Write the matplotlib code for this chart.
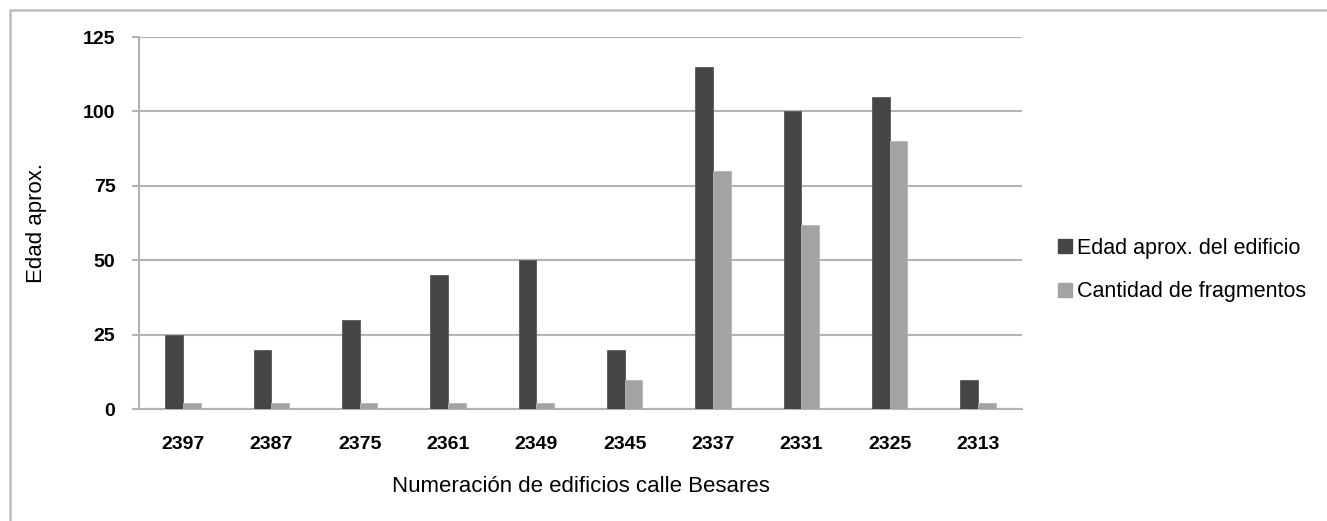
import matplotlib
matplotlib.use("Agg")
import matplotlib.pyplot as plt
import numpy as np
from matplotlib.patches import Rectangle, Patch

categories = ["2397", "2387", "2375", "2361", "2349", "2345", "2337", "2331", "2325", "2313"]
edad = [25, 20, 30, 45, 50, 20, 115, 100, 105, 10]
fragmentos = [2, 2, 2, 2, 2, 10, 80, 62, 90, 2]
series_names = ["Edad aprox. del edificio", "Cantidad de fragmentos"]
yticks = [0, 25, 50, 75, 100, 125]

plt.rcParams['font.family'] = ['Liberation Sans', 'DejaVu Sans']

W, H = 1327, 521
fig = plt.figure(figsize=(W / 100, H / 100), dpi=100)

# outer frame
fig.patches.append(Rectangle((10 / W, -0.1), 1.2, 1 - 10 / H + 0.1, transform=fig.transFigure,
                             fill=False, edgecolor="#bdbdbd", linewidth=1.8, zorder=0))

ax = fig.add_axes([139 / W, 1 - 409.3 / H, (1022 - 139) / W, (409.3 - 37) / H])
x = np.arange(len(categories))
bw = 0.2
dark, light = "#454545", "#a3a3a3"
ax.bar(x - bw / 2, edad, width=bw, color=dark, edgecolor="#5a5a5a", linewidth=0.6, zorder=3)
ax.bar(x + bw / 2, fragmentos, width=bw, color=light, edgecolor="#b5b5b5", linewidth=0.6, zorder=3)

ax.set_xlim(-0.5, len(categories) - 0.5)
ax.set_ylim(0, 125)
ax.set_yticks(yticks)
ax.set_xticks(x)
ax.set_xticklabels(categories)
ax.yaxis.grid(True, color="#b3b3b3", linewidth=1.5, zorder=0)
ax.set_axisbelow(True)
for s in ["top", "right"]:
    ax.spines[s].set_visible(False)
for s in ["left", "bottom"]:
    ax.spines[s].set_color("#b3b3b3")
    ax.spines[s].set_linewidth(1.5)
ax.tick_params(axis="y", length=5, color="#b3b3b3", width=1.5, pad=12)
ax.tick_params(axis="x", length=0, pad=19)
for lab in ax.get_xticklabels() + ax.get_yticklabels():
    lab.set_fontweight("bold")
    lab.set_fontsize(14)

ax.set_ylabel("Edad aprox.", fontsize=16, labelpad=26)
ax.set_xlabel("Numeración de edificios calle Besares", fontsize=16, labelpad=17)

handles = [Patch(facecolor=dark, edgecolor=dark), Patch(facecolor=light, edgecolor=light)]
fig.legend(handles, series_names, loc="center left", bbox_to_anchor=(1039 / W, 1 - 270 / H),
           frameon=False, fontsize=15.5, handlelength=0.65, handleheight=0.65,
           handletextpad=0.2, labelspacing=1.05)

fig.savefig("out.png", dpi=100)
